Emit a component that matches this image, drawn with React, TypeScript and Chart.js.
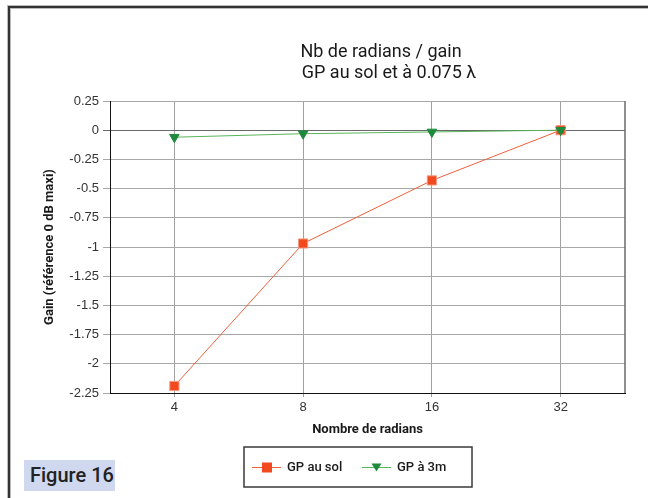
import React, { useEffect, useRef } from 'react';
import { Chart, registerables } from 'chart.js';

Chart.register(...registerables);

const TITLE_LINES = ['Nb de radians / gain', 'GP au sol et à 0.075 λ'];
const X_TITLE = 'Nombre de radians';
const Y_TITLE = 'Gain (référence 0 dB maxi)';
const CATEGORIES = ['4', '8', '16', '32'];
const SERIES_NAMES = ['GP au sol', 'GP à 3m'];
const GP_SOL = [-2.19, -0.97, -0.43, 0];
const GP_3M = [-0.06, -0.03, -0.015, 0];
const Y_MIN = -2.25;
const Y_MAX = 0.25;
const Y_STEP = 0.25;
const FIGURE_LABEL = 'Figure 16';

const RED_LINE = '#f0603c';
const RED_FILL = '#f24a1f';
const GREEN_LINE = '#5ab45a';
const GREEN_FILL = '#1f8a3c';

const decorPlugin = {
  id: 'decor',
  afterDraw(chart: any) {
    const ctx: CanvasRenderingContext2D = chart.ctx;
    const { right, top, bottom } = chart.chartArea;
    ctx.save();
    // right border of plot area
    ctx.strokeStyle = '#6a6a6a';
    ctx.lineWidth = 1.5;
    ctx.beginPath();
    ctx.moveTo(right, top);
    ctx.lineTo(right, bottom);
    ctx.stroke();

    // title
    ctx.fillStyle = '#1a1a1a';
    ctx.font = '400 18px Roboto, sans-serif';
    ctx.textAlign = 'center';
    ctx.textBaseline = 'alphabetic';
    ctx.fillText(TITLE_LINES[0], 381, 57);
    ctx.fillText(TITLE_LINES[1], 389, 78);

    // legend box
    ctx.strokeStyle = '#3a3a3a';
    ctx.lineWidth = 1.5;
    ctx.strokeRect(244, 447, 228, 40);
    const ly = 467.5;
    const ds = chart.data.datasets;
    // item 1: line + square
    ctx.strokeStyle = ds[0].borderColor;
    ctx.lineWidth = 1;
    ctx.beginPath();
    ctx.moveTo(252, ly);
    ctx.lineTo(281, ly);
    ctx.stroke();
    ctx.fillStyle = ds[0].pointBackgroundColor;
    ctx.fillRect(262, ly - 5, 10, 10);
    // item 2: line + down triangle
    ctx.strokeStyle = ds[1].borderColor;
    ctx.beginPath();
    ctx.moveTo(362, ly);
    ctx.lineTo(391, ly);
    ctx.stroke();
    ctx.fillStyle = ds[1].pointBackgroundColor;
    ctx.beginPath();
    ctx.moveTo(371.5, ly - 4);
    ctx.lineTo(381.5, ly - 4);
    ctx.lineTo(376.5, ly + 4);
    ctx.closePath();
    ctx.fill();

    ctx.fillStyle = '#1a1a1a';
    ctx.font = '500 13px Roboto, sans-serif';
    ctx.textAlign = 'left';
    ctx.textBaseline = 'middle';
    ctx.fillText(SERIES_NAMES[0], 287, ly);
    ctx.fillText(SERIES_NAMES[1], 397, ly);
    ctx.restore();
  },
};

export default function App() {
  const ref = useRef<HTMLCanvasElement>(null);

  useEffect(() => {
    const chart = new Chart(ref.current as HTMLCanvasElement, {
      type: 'line',
      data: {
        labels: CATEGORIES,
        datasets: [
          {
            label: SERIES_NAMES[0],
            data: GP_SOL,
            borderColor: RED_LINE,
            borderWidth: 1,
            pointStyle: 'rect',
            pointRadius: 6.5,
            pointBackgroundColor: RED_FILL,
            pointBorderColor: '#f59a80',
            pointBorderWidth: 1,
            tension: 0,
            order: 1,
          },
          {
            label: SERIES_NAMES[1],
            data: GP_3M,
            borderColor: GREEN_LINE,
            borderWidth: 1,
            pointStyle: 'triangle',
            rotation: 180,
            pointRadius: 5.5,
            pointBackgroundColor: GREEN_FILL,
            pointBorderColor: GREEN_FILL,
            pointBorderWidth: 1,
            tension: 0,
            order: 0,
          } as any,
        ],
      },
      options: {
        responsive: false,
        animation: false,
        devicePixelRatio: 1,
        layout: { padding: { left: 0, right: 23, top: 101, bottom: 58 } },
        plugins: {
          legend: { display: false },
          title: { display: false },
          tooltip: { enabled: false },
        },
        scales: {
          x: {
            type: 'category',
            offset: true,
            afterFit: (s: any) => {
              s.height = 47;
            },
            grid: {
              offset: false,
              color: '#a0a0a0',
              lineWidth: 1,
              tickLength: 4,
              drawTicks: true,
            },
            border: { color: '#111', width: 1 },
            ticks: {
              color: '#333',
              font: { family: "'Liberation Sans', Arial, sans-serif", size: 13 },
              padding: 3,
              maxRotation: 0,
            },
            title: {
              display: true,
              text: X_TITLE,
              color: '#1a1a1a',
              font: { family: 'Roboto, sans-serif', size: 13, weight: 'bold' },
              padding: { top: 0, bottom: 2 },
            },
          },
          y: {
            type: 'linear',
            min: Y_MIN,
            max: Y_MAX,
            afterFit: (s: any) => {
              s.width = 110;
            },
            grid: {
              color: (c: any) => (c.tick && c.tick.value === 0 ? '#6a6a6a' : '#a8a8a8'),
              lineWidth: 1,
              tickLength: 7,
            },
            border: { color: '#111', width: 1 },
            ticks: {
              stepSize: Y_STEP,
              color: '#333',
              font: { family: "'Liberation Sans', Arial, sans-serif", size: 13 },
              padding: 4,
              callback: (v: any) => String(Math.round(Number(v) * 100) / 100),
            },
            title: {
              display: true,
              text: Y_TITLE,
              color: '#1a1a1a',
              font: { family: 'Roboto, sans-serif', size: 13, weight: 'bold' },
              padding: { top: 42, bottom: 0 },
            },
          },
        },
      } as any,
      plugins: [decorPlugin],
    });
    return () => chart.destroy();
  }, []);

  return (
    <div
      style={{
        position: 'fixed',
        left: 0,
        top: 0,
        width: 648,
        height: 498,
        background: '#fff',
        overflow: 'hidden',
      }}
    >
      <canvas
        ref={ref}
        width={648}
        height={498}
        style={{ position: 'absolute', left: 0, top: 0, width: 648, height: 498 }}
      />
      <div
        style={{
          position: 'absolute',
          left: 8,
          top: 6,
          width: 700,
          height: 600,
          borderLeft: '2px solid #333',
          borderTop: '2px solid #333',
          boxShadow: 'inset 1px 1px 0 #bbb, -1px -1px 0 #bbb',
        }}
      />
      <div
        style={{
          position: 'absolute',
          left: 24,
          top: 460,
          width: 91,
          height: 31,
          boxSizing: 'border-box',
          paddingLeft: 6,
          background: '#cfd8ee',
          color: '#222',
          fontFamily: 'Roboto, sans-serif',
          fontWeight: 500,
          fontSize: 20,
          lineHeight: '31px',
          whiteSpace: 'nowrap',
        }}
      >
        {FIGURE_LABEL}
      </div>
    </div>
  );
}
